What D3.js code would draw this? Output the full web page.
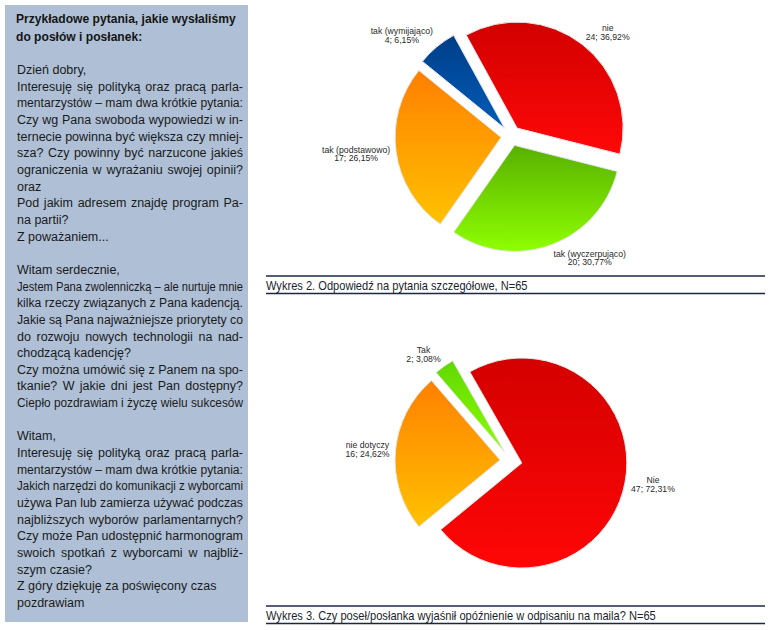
<!DOCTYPE html>
<html>
<head>
<meta charset="utf-8">
<script src="https://cdn.jsdelivr.net/npm/d3@7"></script>
<style>
  body { margin: 0; background: #fff; }
  svg { display: block; font-family: "Liberation Sans", Arial, sans-serif; }
</style>
</head>
<body>
<svg id="page" width="770" height="630"></svg>
<script>
// Wykres 2 - answers to detailed questions
var answers2 = ["nie", "tak (wyczerpująco)", "tak (podstawowo)", "tak (wymijająco)"];
var counts2 = [24, 20, 17, 4];
var colors2 = [["#d20000", "#ff0808"], ["#58b000", "#8eff00"], ["#ff7f00", "#ffc200"], ["#003e88", "#005cb8"]];

// Wykres 3 - explained the delay?
var answers3 = ["Nie", "nie dotyczy", "Tak"];
var counts3 = [47, 16, 2];
var colors3 = [["#d40000", "#ff0606"], ["#ff8000", "#ffc200"], ["#60d800", "#8cff00"]];

var total = 65;

var captions = [
    "Wykres 2. Odpowiedź na pytania szczegółowe, N=65",
    "Wykres 3. Czy poseł/posłanka wyjaśnił opóźnienie w odpisaniu na maila? N=65"
];

// left panel text (1 = justified line)
var titleLines = ["Przykładowe pytania, jakie wysłaliśmy", "do posłów i posłanek:"];
var bodyLines = [
    ["Dzień dobry,", 0],
    ["Interesuję się polityką oraz pracą parla-", 1],
    ["mentarzystów – mam dwa krótkie pytania:", 1],
    ["Czy wg Pana swoboda wypowiedzi w in-", 1],
    ["ternecie powinna być większa czy mniej-", 1],
    ["sza? Czy powinny być narzucone jakieś", 1],
    ["ograniczenia w wyrażaniu swojej opinii?", 1],
    ["oraz", 0],
    ["Pod jakim adresem znajdę program Pa-", 1],
    ["na partii?", 0],
    ["Z poważaniem...", 0],
    ["", 0],
    ["Witam serdecznie,", 0],
    ["Jestem Pana zwolenniczką – ale nurtuje mnie", 1],
    ["kilka rzeczy związanych z Pana kadencją.", 1],
    ["Jakie są Pana najważniejsze priorytety co", 1],
    ["do rozwoju nowych technologii na nad-", 1],
    ["chodzącą kadencję?", 0],
    ["Czy można umówić się z Panem na spo-", 1],
    ["tkanie? W jakie dni jest Pan dostępny?", 1],
    ["Ciepło pozdrawiam i życzę wielu sukcesów", 1],
    ["", 0],
    ["Witam,", 0],
    ["Interesuję się polityką oraz pracą parla-", 1],
    ["mentarzystów – mam dwa krótkie pytania:", 1],
    ["Jakich narzędzi do komunikacji z wyborcami", 1],
    ["używa Pan lub zamierza używać podczas", 1],
    ["najbliższych wyborów parlamentarnych?", 1],
    ["Czy może Pan udostępnić harmonogram", 1],
    ["swoich spotkań z wyborcami w najbliż-", 1],
    ["szym czasie?", 0],
    ["Z góry dziękuję za poświęcony czas", 0],
    ["pozdrawiam", 0]
];

var svg = d3.select("#page");
var defs = svg.append("defs");

// ---- left panel ----
var panel = svg.append("g");
panel.append("rect")
    .attr("x", 5).attr("y", 5)
    .attr("width", 243).attr("height", 617)
    .attr("fill", "#afc0d6");

var textLeft = 17, textWidth = 226;

panel.selectAll("text.title")
    .data(titleLines)
    .enter()
    .append("text")
    .attr("class", "title")
    .attr("transform", (d, i) => "translate(" + 16 + "," + (23 + i * 18) + ") scale(0.93,1)")
    .attr("font-size", 13)
    .attr("font-weight", "bold")
    .attr("fill", "#151515")
    .text(d => d);

var bodyY = d3.scaleLinear().domain([0, bodyLines.length - 1]).range([74, 607]);

panel.selectAll("text.body")
    .data(bodyLines)
    .enter()
    .append("text")
    .attr("class", "body")
    .attr("x", textLeft)
    .attr("y", (d, i) => bodyY(i))
    .attr("font-size", 12.5)
    .attr("fill", "#1a1a1a")
    .text(d => d[0])
    .each(function (d) {
        if (!d[1]) return;
        var natural = this.getComputedTextLength();
        var spaces = d[0].split(" ").length - 1;
        if (natural > textWidth - 1 || spaces === 0) {
            // too long for the column: squeeze glyphs a little
            d3.select(this)
                .attr("textLength", textWidth)
                .attr("lengthAdjust", "spacingAndGlyphs");
        } else {
            d3.select(this).style("word-spacing", ((textWidth - natural) / spaces) + "px");
        }
    });

// ---- pies ----
function fmt(v) {
    return (v / total * 100).toFixed(2).replace(".", ",");
}

function drawPie(id, cx, cy, r, explode, startDeg, names, counts, colors) {
    var start = startDeg * Math.PI / 180;
    var pie = d3.pie().sort(null).startAngle(start).endAngle(start + 2 * Math.PI);
    var arc = d3.arc().innerRadius(0).outerRadius(r);
    var arcs = pie(counts);

    var grads = defs.selectAll("linearGradient." + id)
        .data(colors)
        .enter()
        .append("linearGradient")
        .attr("class", id)
        .attr("id", (d, i) => id + "g" + i)
        .attr("x1", 0).attr("y1", 0).attr("x2", 0).attr("y2", 1);
    grads.append("stop").attr("offset", "0%").attr("stop-color", d => d[0]);
    grads.append("stop").attr("offset", "100%").attr("stop-color", d => d[1]);

    var g = svg.append("g").attr("transform", "translate(" + cx + "," + cy + ")");

    g.selectAll("path")
        .data(arcs)
        .enter()
        .append("path")
        .attr("transform", function (d) {
            var a = (d.startAngle + d.endAngle) / 2;
            return "translate(" + (explode * Math.sin(a)) + "," + (-explode * Math.cos(a)) + ")";
        })
        .attr("d", arc)
        .attr("fill", (d, i) => "url(#" + id + "g" + i + ")")
        .attr("stroke", "#e6e6e6")
        .attr("stroke-width", 1);

    // labels outside the slices
    var labels = g.selectAll("g.lab")
        .data(arcs)
        .enter()
        .append("g")
        .attr("class", "lab");

    labels.each(function (d, i) {
        var lab = d3.select(this);
        var lines = [names[i], counts[i] + "; " + fmt(counts[i]) + "%"];
        var t = lab.selectAll("text")
            .data(lines)
            .enter()
            .append("text")
            .attr("font-size", 8.7)
            .attr("fill", "#2a2a2a")
            .attr("text-anchor", "middle")
            .text(s => s);
        var w = 0;
        t.each(function () { w = Math.max(w, this.getComputedTextLength()); });

        var a = (d.startAngle + d.endAngle) / 2;
        var sx = Math.sin(a), sy = -Math.cos(a);
        var pr = r + explode + 6;
        var px = pr * sx, py = pr * sy;
        var h = 17;
        var left = sx > 0.05 ? px : (sx < -0.05 ? px - w : px - w / 2);
        var top = py - h / 2 + sy * h / 2;
        t.attr("x", left + w / 2)
            .attr("y", (s, j) => top + 7 + j * 8.6);
    });
}

drawPie("p2", 511, 136, 106, 10, -28.7, answers2, counts2, colors2);
drawPie("p3", 511, 461, 105, 11, -29.7, answers3, counts3, colors3);

// ---- captions ----
var capY = [276, 606];
var cap = svg.selectAll("g.cap")
    .data(captions)
    .enter()
    .append("g")
    .attr("class", "cap");

cap.append("line")
    .attr("x1", 266).attr("x2", 765)
    .attr("y1", (d, i) => capY[i]).attr("y2", (d, i) => capY[i])
    .attr("stroke", "#1b2840").attr("stroke-width", 1.3);
cap.append("line")
    .attr("x1", 266).attr("x2", 765)
    .attr("y1", (d, i) => capY[i] + 17.5).attr("y2", (d, i) => capY[i] + 17.5)
    .attr("stroke", "#1b2840").attr("stroke-width", 1.3);
cap.append("text")
    .attr("transform", (d, i) => "translate(266," + (capY[i] + 13.5) + ") scale(0.925,1)")
    .attr("font-size", 12)
    .attr("fill", "#1a1f2e")
    .text(d => d);
</script>
</body>
</html>
